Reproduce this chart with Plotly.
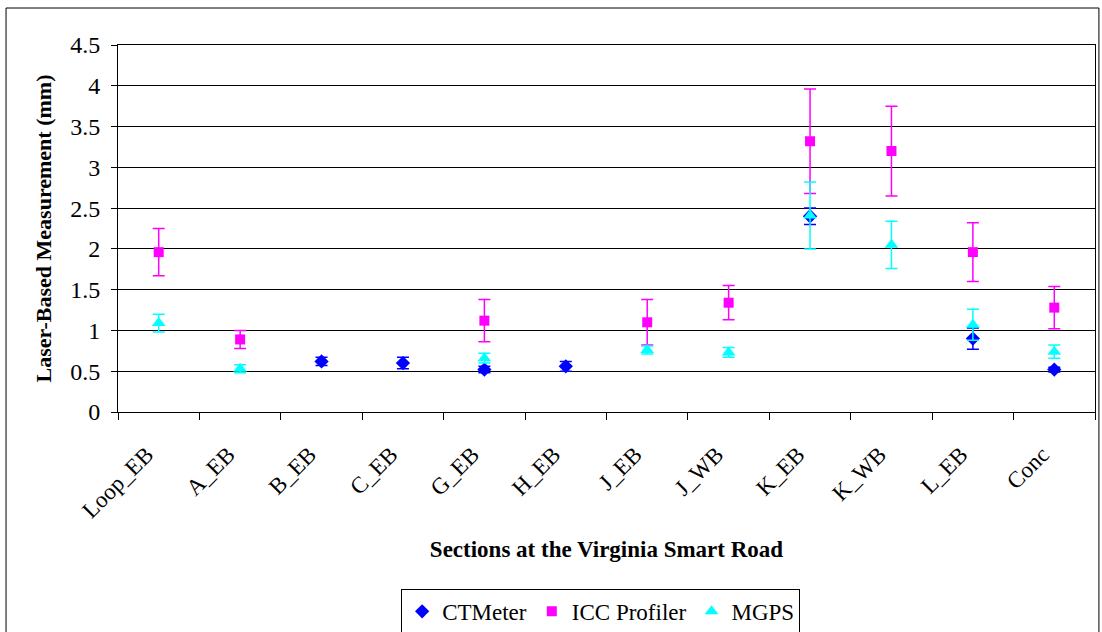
import plotly.graph_objects as go

categories = ["Loop_EB", "A_EB", "B_EB", "C_EB", "G_EB", "H_EB", "J_EB", "J_WB", "K_EB", "K_WB", "L_EB", "Conc"]

ct_mean = [None, None, 0.62, 0.60, 0.52, 0.56, None, None, 2.40, None, 0.90, 0.52]
ct_err = [None, None, 0.05, 0.07, 0.04, 0.06, None, None, 0.10, None, 0.13, 0.03]

icc_mean = [1.96, 0.89, None, None, 1.12, None, 1.10, 1.34, 3.32, 3.20, 1.96, 1.28]
icc_err = [0.29, 0.11, None, None, 0.26, None, 0.28, 0.21, 0.64, 0.55, 0.36, 0.26]

mgps_mean = [1.09, 0.53, None, None, 0.66, None, 0.76, 0.73, 2.41, 2.05, 1.07, 0.74]
mgps_err = [0.11, 0.05, None, None, 0.06, None, 0.05, 0.06, 0.41, 0.29, 0.19, 0.08]

y_ticks = [0, 0.5, 1, 1.5, 2, 2.5, 3, 3.5, 4, 4.5]

FONT = "Liberation Serif"

fig = go.Figure()

def add(name, mean, err, color, symbol, size):
    fig.add_trace(go.Scatter(
        x=categories, y=mean, name=name, mode="markers",
        marker=dict(color=color, symbol=symbol, size=size, line=dict(width=0)),
        error_y=dict(type="data", array=err, visible=True, color=color, thickness=1.5, width=6),
    ))

add("CTMeter", ct_mean, ct_err, "#0000FF", "diamond", 11)
add("ICC Profiler", icc_mean, icc_err, "#FF00FF", "square", 10)
add("MGPS", mgps_mean, mgps_err, "#00FFFF", "triangle-up", 12)

fig.update_layout(
    width=1102, height=632,
    margin=dict(l=118, r=7, t=45, b=220, autoexpand=False),
    paper_bgcolor="white", plot_bgcolor="white",
    font=dict(family=FONT, color="black", size=23),
    showlegend=True,
    legend=dict(
        orientation="h", x=0.494, xanchor="center", y=-0.482, yanchor="top",
        bordercolor="black", borderwidth=1, font=dict(size=23, family=FONT, color="black"),
        itemwidth=30, tracegroupgap=0,
    ),
    xaxis=dict(
        type="category", range=[-0.5, 11.5], tickangle=-45, tickson="boundaries",
        ticks="outside", ticklen=7, tickcolor="black",
        showline=True, linecolor="black", linewidth=1, mirror=True,
        showgrid=False, tickfont=dict(size=23, family=FONT, color="black"),
        ticklabelstandoff=19, ticklabelshift=-12,
        automargin=False,
        title=dict(text="<b>Sections at the Virginia Smart Road</b>", font=dict(size=23, family=FONT, color="black"), standoff=18),
    ),
    yaxis=dict(
        range=[0, 4.5], tickvals=y_ticks, ticktext=[f"{v:g}" for v in y_ticks],
        ticks="outside", ticklen=6, tickcolor="black",
        showline=True, linecolor="black", linewidth=1, mirror=True,
        showgrid=True, gridcolor="black", gridwidth=1, zeroline=False,
        tickfont=dict(size=24, family=FONT, color="black"), automargin=False,
        ticklabelstandoff=6,
        title=dict(text="<b>Laser-Based Measurement (mm)</b>", font=dict(size=22, family=FONT, color="black"), standoff=12),
    ),
    shapes=[dict(type="rect", xref="paper", yref="paper",
                 x0=-0.1146, x1=1.004, y0=-0.62, y1=1.1008,
                 line=dict(color="black", width=1), fillcolor="rgba(0,0,0,0)", layer="below")],
)

fig.write_html("out.html", config={"displayModeBar": False},
               post_script="document.body.style.margin='0px';document.body.style.overflow='hidden';")
